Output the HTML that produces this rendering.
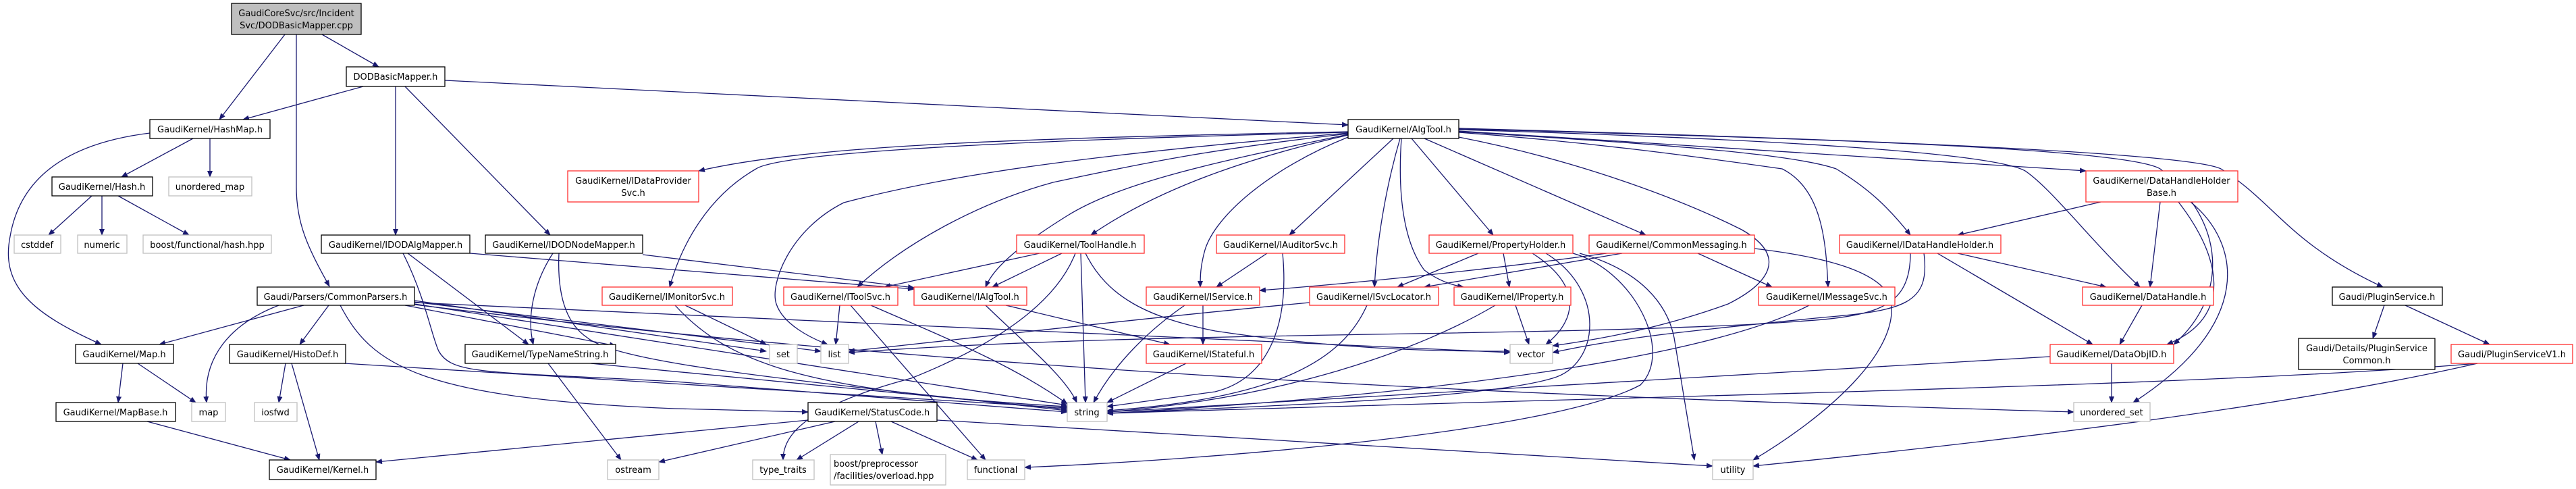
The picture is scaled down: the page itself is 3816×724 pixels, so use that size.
<!DOCTYPE html>
<html><head><meta charset="utf-8"><style>
html,body{margin:0;padding:0;background:#fff;width:3816px;height:724px;overflow:hidden}
svg text{font-family:"DejaVu Sans","Liberation Sans",sans-serif;font-size:13px;fill:#000}
.e{fill:none;stroke:#191970;stroke-width:1.3}
.n{fill:#fff;stroke:#000;stroke-width:1.3}
.r{fill:#fff;stroke:#ff3030;stroke-width:1.3}
.g{fill:#fff;stroke:#c0c0c0;stroke-width:1.3}
</style></head><body>
<svg width="3816" height="724" xmlns="http://www.w3.org/2000/svg">
<defs><marker id="a" markerWidth="10" markerHeight="8" refX="9" refY="4" orient="auto" markerUnits="userSpaceOnUse"><path d="M0,0 L10,4 L0,8 z" fill="#191970"/></marker></defs>
<g class="e" marker-end="url(#a)">
<path d="M422,51 L325,177"/>
<path d="M439,51 L439,277 C439,330 455,365 488,424"/>
<path d="M477,51 L561,99"/>
<path d="M538,128 L360,177"/>
<path d="M586,128 L586,348"/>
<path d="M600,128 L815,348"/>
<path d="M659,119 L1997,185"/>
<path d="M286,205 L180,262"/>
<path d="M311,205 L311,262"/>
<path d="M222,197 C100,212 30,262 15,350 C0,425 50,465 150,510"/>
<path d="M136,290 L72,348"/>
<path d="M151,290 L151,348"/>
<path d="M175,290 L280,348"/>
<path d="M604,375 L783,510"/>
<path d="M696,375 L1354,428"/>
<path d="M597,375 C630,440 640,500 650,520 C670,555 720,550 1000,565 L1581,610"/>
<path d="M819,375 C790,420 780,470 790,510"/>
<path d="M952,377 L1354,426"/>
<path d="M828,375 C825,440 840,480 870,500 C920,540 1200,565 1581,608"/>
<path d="M450,452 L236,510"/>
<path d="M413,452 C340,480 300,530 306,596"/>
<path d="M487,452 L444,510"/>
<path d="M600,452 L912,512"/>
<path d="M504,452 C550,540 620,590 1000,605 L1197,610"/>
<path d="M614,445 L1135,520"/>
<path d="M614,447 L1216,520"/>
<path d="M614,448 L2237,522"/>
<path d="M614,450 L1581,600"/>
<path d="M614,451 C1500,560 2400,590 3072,610"/>
<path d="M182,538 L175,596"/>
<path d="M204,538 L290,596"/>
<path d="M218,624 L430,681"/>
<path d="M423,538 L413,596"/>
<path d="M432,538 L473,681"/>
<path d="M510,538 L1581,604"/>
<path d="M812,538 L920,681"/>
<path d="M875,538 L1581,606"/>
<path d="M1197,622 L557,684"/>
<path d="M1237,624 L976,684"/>
<path d="M1272,624 L1180,681"/>
<path d="M1297,624 L1307,673"/>
<path d="M1320,624 L1448,681"/>
<path d="M1388,622 L2537,690"/>
<path d="M1997,195 C1500,205 1200,215 1035,253"/>
<path d="M1997,196 C1400,210 1150,230 1120,250 C1050,290 1010,360 992,425"/>
<path d="M1997,197 C1600,230 1400,260 1250,300 C1170,340 1140,420 1150,450 C1160,480 1200,500 1226,510"/>
<path d="M1997,198 C1800,220 1700,240 1560,270 C1450,300 1340,360 1270,425"/>
<path d="M1997,199 C1800,240 1660,270 1580,320 C1500,370 1470,400 1460,425"/>
<path d="M1997,200 C1820,240 1700,290 1616,348"/>
<path d="M1997,203 C1880,250 1800,320 1785,370 C1778,395 1778,410 1778,425"/>
<path d="M2064,205 L1910,348"/>
<path d="M2074,205 C2055,270 2040,350 2036,425"/>
<path d="M2076,205 C2070,290 2080,360 2110,400 C2130,415 2150,422 2168,425"/>
<path d="M2091,205 L2212,348"/>
<path d="M2110,205 L2438,348"/>
<path d="M2161,203 C2350,240 2500,300 2580,340 C2650,380 2620,420 2560,450 C2450,490 2350,505 2300,512"/>
<path d="M2161,196 C2350,210 2500,230 2640,250 C2700,280 2705,360 2708,425"/>
<path d="M2161,195 C2400,210 2650,225 2720,250 C2770,280 2800,310 2830,348"/>
<path d="M2161,194 L3090,253"/>
<path d="M2161,192 C2600,205 2950,225 3000,253 C3040,280 3100,360 3170,425"/>
<path d="M2161,191 C2700,205 3150,220 3200,250 C3300,330 3300,440 3220,510"/>
<path d="M2161,190 C2900,210 3250,230 3290,250 C3370,300 3390,360 3530,425"/>
<path d="M1540,375 L1310,425"/>
<path d="M1573,375 L1470,425"/>
<path d="M1593,375 C1560,460 1450,520 1350,560 C1200,600 1160,640 1160,681"/>
<path d="M1601,375 L1608,596"/>
<path d="M1608,375 C1640,440 1700,470 1800,490 C2000,520 2150,520 2237,520"/>
<path d="M1244,452 L1238,510"/>
<path d="M1260,452 L1460,681"/>
<path d="M1290,452 C1400,500 1500,540 1581,598"/>
<path d="M1460,452 C1520,510 1580,560 1595,596"/>
<path d="M1490,452 L1733,510"/>
<path d="M1015,452 L1135,510"/>
<path d="M1000,452 C1080,540 1200,580 1581,602"/>
<path d="M1877,375 L1802,425"/>
<path d="M1900,375 C1910,480 1880,560 1800,580 L1640,602"/>
<path d="M1782,452 L1782,510"/>
<path d="M1755,452 C1700,490 1650,540 1620,596"/>
<path d="M1757,538 L1640,596"/>
<path d="M2025,452 C1990,530 1900,590 1640,608"/>
<path d="M1940,448 C1700,470 1400,505 1257,520"/>
<path d="M2245,452 L2265,510"/>
<path d="M2215,452 C2100,520 1900,590 1640,610"/>
<path d="M2190,375 L2070,425"/>
<path d="M2227,375 L2236,425"/>
<path d="M2270,375 C2340,420 2340,470 2290,510"/>
<path d="M2290,375 C2380,430 2370,540 2300,560 C2200,590 1900,600 1640,612"/>
<path d="M2330,375 C2420,400 2480,520 2430,570 C2300,640 1800,680 1518,692"/>
<path d="M2340,375 C2430,400 2470,450 2480,500 C2490,560 2500,620 2510,681"/>
<path d="M2403,375 L2110,425"/>
<path d="M2380,375 C2200,400 2000,420 1866,430"/>
<path d="M2515,375 L2625,425"/>
<path d="M2599,368 C2700,380 2780,400 2800,440 C2820,520 2700,620 2597,681"/>
<path d="M2680,452 C2550,520 2200,580 1640,612"/>
<path d="M2900,375 L3120,425"/>
<path d="M2870,375 L3100,510"/>
<path d="M2850,375 C2860,450 2820,460 2700,470 C2500,490 2400,500 2300,522"/>
<path d="M2830,375 C2830,470 2760,470 2600,480 C2200,500 1700,490 1257,522"/>
<path d="M3112,299 L2900,348"/>
<path d="M3200,299 L3185,425"/>
<path d="M3227,299 C3290,380 3310,470 3210,510"/>
<path d="M3245,299 C3320,360 3340,480 3160,596"/>
<path d="M3173,452 L3140,510"/>
<path d="M3128,538 L3128,596"/>
<path d="M3037,528 C2500,560 2000,585 1640,610"/>
<path d="M3532,452 L3515,501"/>
<path d="M3563,452 L3688,510"/>
<path d="M3670,538 C3300,570 2500,585 1640,612"/>
<path d="M3670,538 C3400,600 3000,650 2597,690"/>
</g>
<g>
<rect class="n" x="343" y="5" width="192" height="46" style="fill:#bfbfbf"/><text x="439" y="24" text-anchor="middle">GaudiCoreSvc/src/Incident</text><text x="439" y="42" text-anchor="middle">Svc/DODBasicMapper.cpp</text>
<rect class="n" x="513" y="99" width="146" height="29"/><text x="586" y="118" text-anchor="middle">DODBasicMapper.h</text>
<rect class="n" x="222" y="177" width="178" height="28"/><text x="311" y="196" text-anchor="middle">GaudiKernel/HashMap.h</text>
<rect class="n" x="77" y="262" width="149" height="28"/><text x="151" y="281" text-anchor="middle">GaudiKernel/Hash.h</text>
<rect class="g" x="250" y="262" width="123" height="28"/><text x="311" y="281" text-anchor="middle">unordered_map</text>
<rect class="g" x="21" y="348" width="69" height="27"/><text x="55" y="367" text-anchor="middle">cstddef</text>
<rect class="g" x="115" y="348" width="73" height="27"/><text x="151" y="367" text-anchor="middle">numeric</text>
<rect class="g" x="212" y="348" width="190" height="27"/><text x="307" y="367" text-anchor="middle">boost/functional/hash.hpp</text>
<rect class="n" x="476" y="348" width="220" height="27"/><text x="586" y="367" text-anchor="middle">GaudiKernel/IDODAlgMapper.h</text>
<rect class="n" x="719" y="348" width="233" height="27"/><text x="835" y="367" text-anchor="middle">GaudiKernel/IDODNodeMapper.h</text>
<rect class="n" x="381" y="425" width="233" height="27"/><text x="497" y="444" text-anchor="middle">Gaudi/Parsers/CommonParsers.h</text>
<rect class="n" x="112" y="510" width="145" height="28"/><text x="184" y="529" text-anchor="middle">GaudiKernel/Map.h</text>
<rect class="n" x="340" y="510" width="172" height="28"/><text x="426" y="529" text-anchor="middle">GaudiKernel/HistoDef.h</text>
<rect class="n" x="689" y="510" width="223" height="28"/><text x="800" y="529" text-anchor="middle">GaudiKernel/TypeNameString.h</text>
<rect class="n" x="83" y="596" width="177" height="28"/><text x="171" y="615" text-anchor="middle">GaudiKernel/MapBase.h</text>
<rect class="g" x="284" y="596" width="50" height="28"/><text x="309" y="615" text-anchor="middle">map</text>
<rect class="g" x="377" y="596" width="63" height="28"/><text x="408" y="615" text-anchor="middle">iosfwd</text>
<rect class="n" x="399" y="681" width="158" height="29"/><text x="478" y="700" text-anchor="middle">GaudiKernel/Kernel.h</text>
<rect class="g" x="900" y="681" width="76" height="29"/><text x="938" y="700" text-anchor="middle">ostream</text>
<rect class="r" x="841" y="253" width="194" height="46"/><text x="938" y="272" text-anchor="middle">GaudiKernel/IDataProvider</text><text x="938" y="290" text-anchor="middle">Svc.h</text>
<rect class="r" x="892" y="425" width="193" height="27"/><text x="988" y="444" text-anchor="middle">GaudiKernel/IMonitorSvc.h</text>
<rect class="r" x="1161" y="425" width="169" height="27"/><text x="1245" y="444" text-anchor="middle">GaudiKernel/IToolSvc.h</text>
<rect class="r" x="1354" y="425" width="167" height="27"/><text x="1437" y="444" text-anchor="middle">GaudiKernel/IAlgTool.h</text>
<rect class="r" x="1506" y="348" width="189" height="27"/><text x="1600" y="367" text-anchor="middle">GaudiKernel/ToolHandle.h</text>
<rect class="r" x="1802" y="348" width="190" height="27"/><text x="1897" y="367" text-anchor="middle">GaudiKernel/IAuditorSvc.h</text>
<rect class="r" x="1698" y="425" width="168" height="27"/><text x="1782" y="444" text-anchor="middle">GaudiKernel/IService.h</text>
<rect class="g" x="1140" y="510" width="41" height="28"/><text x="1160" y="529" text-anchor="middle">set</text>
<rect class="g" x="1216" y="510" width="41" height="28"/><text x="1236" y="529" text-anchor="middle">list</text>
<rect class="r" x="1698" y="510" width="171" height="28"/><text x="1783" y="529" text-anchor="middle">GaudiKernel/IStateful.h</text>
<rect class="n" x="1197" y="596" width="191" height="28"/><text x="1292" y="615" text-anchor="middle">GaudiKernel/StatusCode.h</text>
<rect class="g" x="1581" y="596" width="59" height="28"/><text x="1610" y="615" text-anchor="middle">string</text>
<rect class="g" x="1115" y="681" width="91" height="29"/><text x="1160" y="700" text-anchor="middle">type_traits</text>
<rect class="g" x="1230" y="673" width="171" height="45"/><text x="1235" y="691">boost/preprocessor</text><text x="1235" y="709">/facilities/overload.hpp</text>
<rect class="g" x="1433" y="681" width="85" height="29"/><text x="1475" y="700" text-anchor="middle">functional</text>
<rect class="n" x="1997" y="177" width="164" height="28"/><text x="2079" y="196" text-anchor="middle">GaudiKernel/AlgTool.h</text>
<rect class="r" x="2117" y="348" width="213" height="27"/><text x="2223" y="367" text-anchor="middle">GaudiKernel/PropertyHolder.h</text>
<rect class="r" x="2354" y="348" width="245" height="27"/><text x="2476" y="367" text-anchor="middle">GaudiKernel/CommonMessaging.h</text>
<rect class="r" x="2725" y="348" width="239" height="27"/><text x="2844" y="367" text-anchor="middle">GaudiKernel/IDataHandleHolder.h</text>
<rect class="r" x="1940" y="425" width="191" height="27"/><text x="2035" y="444" text-anchor="middle">GaudiKernel/ISvcLocator.h</text>
<rect class="r" x="2154" y="425" width="173" height="27"/><text x="2240" y="444" text-anchor="middle">GaudiKernel/IProperty.h</text>
<rect class="r" x="2605" y="425" width="202" height="27"/><text x="2706" y="444" text-anchor="middle">GaudiKernel/IMessageSvc.h</text>
<rect class="g" x="2237" y="510" width="63" height="28"/><text x="2268" y="529" text-anchor="middle">vector</text>
<rect class="g" x="2537" y="681" width="60" height="29"/><text x="2567" y="700" text-anchor="middle">utility</text>
<rect class="r" x="3090" y="253" width="225" height="46"/><text x="3202" y="272" text-anchor="middle">GaudiKernel/DataHandleHolder</text><text x="3202" y="290" text-anchor="middle">Base.h</text>
<rect class="r" x="3085" y="425" width="194" height="27"/><text x="3182" y="444" text-anchor="middle">GaudiKernel/DataHandle.h</text>
<rect class="r" x="3037" y="510" width="183" height="28"/><text x="3128" y="529" text-anchor="middle">GaudiKernel/DataObjID.h</text>
<rect class="g" x="3072" y="596" width="113" height="28"/><text x="3128" y="615" text-anchor="middle">unordered_set</text>
<rect class="n" x="3455" y="425" width="163" height="27"/><text x="3536" y="444" text-anchor="middle">Gaudi/PluginService.h</text>
<rect class="n" x="3405" y="501" width="202" height="46"/><text x="3506" y="520" text-anchor="middle">Gaudi/Details/PluginService</text><text x="3506" y="538" text-anchor="middle">Common.h</text>
<rect class="r" x="3631" y="510" width="180" height="28"/><text x="3721" y="529" text-anchor="middle">Gaudi/PluginServiceV1.h</text>
</g>
</svg>
</body></html>
